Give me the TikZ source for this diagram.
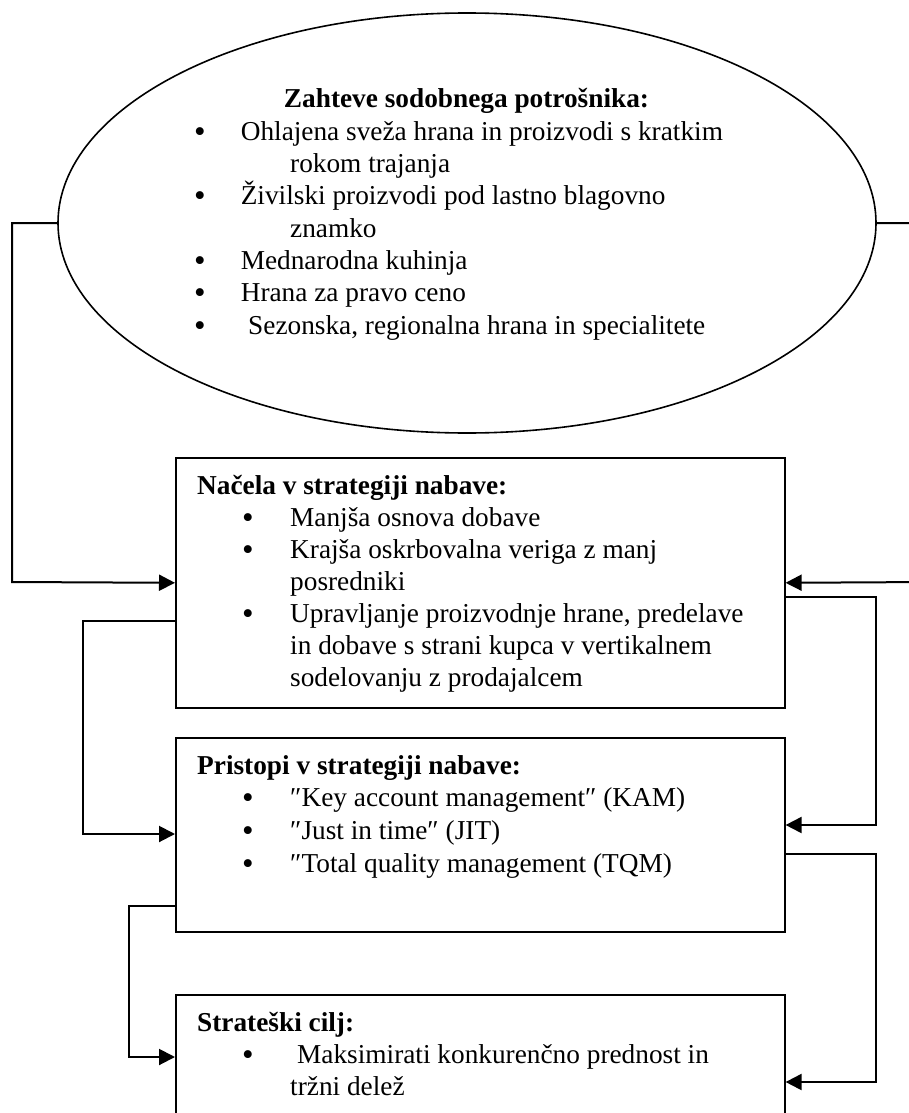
\documentclass[tikz,border=0pt]{standalone}
\usepackage{fontspec}
\setmainfont{Liberation Serif}
\usetikzlibrary{shapes.geometric,arrows.meta}
\begin{document}
\begin{tikzpicture}[x=1pt,y=-1pt,
  txt/.style={anchor=base west,inner sep=0pt,font=\fontsize{27.3}{32}\selectfont},
  head/.style={anchor=base west,inner sep=0pt,font=\fontsize{27.3}{32}\selectfont\bfseries},
  dot/.style={anchor=base,inner sep=0pt,yshift=-2pt,font=\fontsize{33}{32}\selectfont},
  panel/.style={draw,line width=1.6pt,rectangle,inner sep=0pt,anchor=north west,minimum width=609pt},
  conn/.style={line width=2pt},
  arr/.style={conn,-{Triangle[length=16pt,width=16pt]}}]
\useasboundingbox (0,0) rectangle (909,1113);
\clip (0,0) rectangle (909,1113);

% consumer demands
\node[draw,ellipse,line width=1.6pt,minimum width=818pt,minimum height=420pt,inner sep=0pt] (ell) at (467,223) {};
\node[anchor=base,inner sep=0pt,font=\fontsize{27.3}{32}\selectfont\bfseries] (et) at (466.5,108) {Zahteve sodobnega potrošnika:};
\node[dot] (ed1) at (200,140.3) {•};
\node[txt] (e1) at (240.6,140.3) {Ohlajena sveža hrana in proizvodi s kratkim};
\node[txt] (e1b) at (290,172.6) {rokom trajanja};
\node[dot] (ed2) at (200,204.9) {•};
\node[txt] (e2) at (240.6,204.9) {Živilski proizvodi pod lastno blagovno};
\node[txt] (e2b) at (290,237.2) {znamko};
\node[dot] (ed3) at (200,269.5) {•};
\node[txt] (e3) at (240.6,269.5) {Mednarodna kuhinja};
\node[dot] (ed4) at (200,301.8) {•};
\node[txt] (e4) at (240.6,301.8) {Hrana za pravo ceno};
\node[dot] (ed5) at (200,334.1) {•};
\node[txt] (e5) at (248,334.1) {Sezonska, regionalna hrana in specialitete};

% principles
\node[panel,minimum height=250pt] (b1) at (175,457) {};
\node[head] (b1t) at (197,494) {Načela v strategiji nabave:};
\node[dot] (b1d1) at (248,526) {•};
\node[txt] (b1a) at (290,526) {Manjša osnova dobave};
\node[dot] (b1d2) at (248,558) {•};
\node[txt] (b1b) at (290,558) {Krajša oskrbovalna veriga z manj};
\node[txt] (b1c) at (290,590) {posredniki};
\node[dot] (b1d3) at (248,622) {•};
\node[txt] (b1e) at (290,622) {Upravljanje proizvodnje hrane, predelave};
\node[txt] (b1f) at (290,654) {in dobave s strani kupca v vertikalnem};
\node[txt] (b1g) at (290,686) {sodelovanju z prodajalcem};

% approaches
\node[panel,minimum height=194pt] (b2) at (175,737) {};
\node[head] (b2t) at (197,774) {Pristopi v strategiji nabave:};
\node[dot] (b2d1) at (248,806) {•};
\node[txt] (b2a) at (290,806) {″Key account management″ (KAM)};
\node[dot] (b2d2) at (248,839) {•};
\node[txt] (b2b) at (290,839) {″Just in time″ (JIT)};
\node[dot] (b2d3) at (248,872) {•};
\node[txt] (b2c) at (290,872) {″Total quality management (TQM)};

% strategic goal
\node[panel,minimum height=140pt] (b3) at (175,994) {};
\node[head] (b3t) at (197,1031) {Strateški cilj:};
\node[dot] (b3d1) at (248,1063) {•};
\node[txt] (b3a) at (297,1063) {Maksimirati konkurenčno prednost in};
\node[txt] (b3b) at (290,1095) {tržni delež};

% bend points of the connectors
\coordinate (k1) at (12,223);  \coordinate (k2) at (12,582);
\coordinate (k3) at (930,223); \coordinate (k4) at (930,582);
\coordinate (k5) at (83,621);  \coordinate (k6) at (83,834);
\coordinate (k7) at (876,597); \coordinate (k8) at (876,825);
\coordinate (k9) at (129,906); \coordinate (k10) at (129,1057);
\coordinate (k11) at (876,854); \coordinate (k12) at (876,1082);

\draw[arr] (ell.west) -- (k1) -- (k2) -- (b1.west);
\draw[arr] (ell.east) -- (k3) -- (k4) -- (b1.east);
\draw[arr] (b1.west |- k5) -- (k5) -- (k6) -- (b2.west |- k6);
\draw[arr] (b1.east |- k7) -- (k7) -- (k8) -- (b2.east |- k8);
\draw[arr] (b2.west |- k9) -- (k9) -- (k10) -- (b3.west |- k10);
\draw[arr] (b2.east |- k11) -- (k11) -- (k12) -- (b3.east |- k12);
\end{tikzpicture}
\end{document}
